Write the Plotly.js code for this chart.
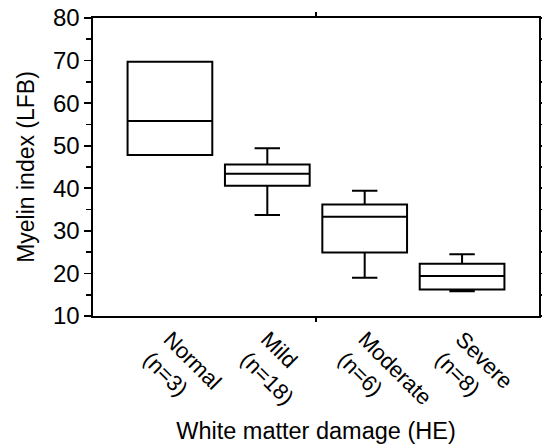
<!DOCTYPE html>
<html>
<head>
<meta charset="utf-8">
<script src="https://cdn.plot.ly/plotly-3.0.1.min.js"></script>
<style>html,body{margin:0;padding:0;background:#fff}#chart{width:542px;height:444px}</style>
</head>
<body>
<div id="chart"></div>
<script>
var categories = ["Normal", "Mild", "Moderate", "Severe"];
var groupSizes = [3, 18, 6, 8];
var positions = [1, 2, 3, 4];
var lowerWhisker = [47.8, 33.7, 19.0, 15.8];
var q1 = [47.8, 40.6, 24.9, 16.2];
var medians = [55.8, 43.4, 33.3, 19.4];
var q3 = [69.7, 45.6, 36.2, 22.3];
var upperWhisker = [69.7, 49.4, 39.4, 24.5];
var tickLabels = categories.map(function (c, i) { return c + "<br>(n=" + groupSizes[i] + ")"; });

var font = "Liberation Sans, Arial, sans-serif";

var data = [{
  type: "box",
  x: positions,
  q1: q1,
  median: medians,
  q3: q3,
  lowerfence: lowerWhisker,
  upperfence: upperWhisker,
  boxpoints: false,
  width: 0.87,
  whiskerwidth: 0.3,
  line: {color: "#000", width: 2},
  fillcolor: "rgba(0,0,0,0)",
  showlegend: false,
  hoverinfo: "skip"
}, {
  type: "scatter", x: [null], y: [null], xaxis: "x2", yaxis: "y",
  mode: "markers", showlegend: false, hoverinfo: "skip"
}];

var layout = {
  width: 542, height: 444,
  margin: {l: 93, r: 3, t: 18, b: 128},
  paper_bgcolor: "#fff", plot_bgcolor: "#fff",
  font: {family: font, size: 23, color: "#000"},
  showlegend: false,
  xaxis: {
    range: [0.21, 4.79],
    tickmode: "array", tickvals: positions, ticktext: tickLabels,
    tickangle: 45, ticks: "",
    showline: true, linecolor: "#000", linewidth: 1.6, mirror: true,
    showgrid: false, zeroline: false,
    tickfont: {family: font, size: 22},
    title: {text: "White matter damage (HE)", font: {family: font, size: 23.5}, standoff: 4}
  },
  xaxis2: {
    overlaying: "x", matches: "x", anchor: "y",
    tickmode: "array", tickvals: [2.5], showticklabels: false,
    ticks: "outside", ticklen: 5, tickwidth: 1.6, tickcolor: "#000",
    mirror: "ticks", showline: false, showgrid: false, zeroline: false
  },
  yaxis: {
    range: [10, 80], dtick: 10, tick0: 10,
    ticks: "outside", ticklen: 7, tickwidth: 1.6, tickcolor: "#000",
    minor: {dtick: 5, ticks: "outside", ticklen: 5, tickwidth: 1.6, tickcolor: "#000", showgrid: false},
    showline: true, linecolor: "#000", linewidth: 1.6, mirror: "ticks",
    showgrid: false, zeroline: false,
    tickfont: {family: font, size: 24},
    title: {text: "Myelin index (LFB)", font: {family: font, size: 23}, standoff: 12}
  }
};

Plotly.newPlot("chart", data, layout, {displayModeBar: false, staticPlot: true});
</script>
</body>
</html>
